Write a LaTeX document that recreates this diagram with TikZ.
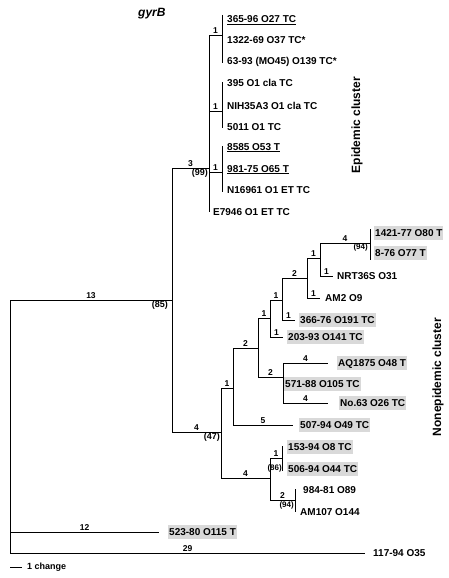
\documentclass[tikz,border=0pt]{standalone}
\usepackage{fontspec}
\setmainfont{Liberation Sans}
\begin{document}
\begin{tikzpicture}[x=1pt,y=-1pt,
  br/.style={line width=0.9pt, black},
  blen/.style={font=\fontsize{8.5}{9}\selectfont\bfseries, anchor=south, inner sep=1pt},
  boot/.style={font=\fontsize{8}{9}\selectfont\bfseries, inner sep=1pt},
  bootbig/.style={font=\fontsize{9}{10}\selectfont\bfseries, inner sep=1pt},
  leaf/.style={font=\fontsize{10}{12}\selectfont\bfseries, anchor=west, inner xsep=1pt, inner ysep=2pt, text height=8pt, text depth=2pt},
  gleaf/.style={leaf, fill=black!15},
  clus/.style={font=\fontsize{12}{14}\selectfont\bfseries, rotate=90}]
\useasboundingbox (0,0) rectangle (449,578);

% title
\node[font=\fontsize{12}{14}\selectfont\bfseries\itshape, anchor=west, inner sep=0pt] (title) at (138,14) {gyrB};

% internal nodes
\coordinate (R) at (10,300);
\coordinate (A) at (172,300);
\coordinate (E) at (209,168);
\coordinate (N) at (221,432);
\coordinate (T1) at (222,35);
\coordinate (T2) at (222,111);
\coordinate (T3) at (222,172);
\coordinate (T1t) at (222,15);  \coordinate (T1b) at (222,63);
\coordinate (T2t) at (222,82);  \coordinate (T2b) at (222,128);
\coordinate (T3t) at (222,146); \coordinate (T3b) at (222,192);
\coordinate (e7946) at (209,212);

\coordinate (N1) at (233,388);
\coordinate (N9) at (270,478);
\coordinate (N2) at (258,348);
\coordinate (l507) at (293,425);
\coordinate (N3) at (270,318);
\coordinate (N8) at (283,377);
\coordinate (N4) at (282,300);
\coordinate (l203) at (283,337);
\coordinate (N5) at (307,278);
\coordinate (l366) at (295,320);
\coordinate (N6) at (320,258);
\coordinate (lAM2) at (320,298);
\coordinate (N7) at (370,243);
\coordinate (lNRT) at (333,276);
\coordinate (N7t) at (370,229); \coordinate (N7b) at (370,260);
\coordinate (N8t) at (283,363); \coordinate (N8b) at (283,403);
\coordinate (lAQ) at (328,363);
\coordinate (lNo) at (328,403);
\coordinate (N10) at (282,458);
\coordinate (N10t) at (282,446); \coordinate (N10b) at (282,471);
\coordinate (N11) at (295,500);
\coordinate (N11t) at (295,489); \coordinate (N11b) at (295,512);
\coordinate (l523) at (159,532);
\coordinate (l117) at (365,553);

% branches
\draw[br] (R) -- node[blen]{13} (A);
\draw[br] (A) |- node[blen,pos=0.75]{3} (E);
\draw[br] (A) |- node[blen,pos=0.75]{4} (N);
\draw[br] (E) |- node[blen,pos=0.75]{1} (T1);
\draw[br] (E) |- node[blen,pos=0.75]{1} (T2);
\draw[br] (E) |- node[blen,pos=0.75]{1} (T3);
\draw[br] (E) -- (e7946);
\draw[br] (T1t) -- (T1b);
\draw[br] (T2t) -- (T2b);
\draw[br] (T3t) -- (T3b);

\draw[br] (N) |- node[blen,pos=0.75]{1} (N1);
\draw[br] (N) |- node[blen,pos=0.75]{4} (N9);
\draw[br] (N1) |- node[blen,pos=0.75]{2} (N2);
\draw[br] (N1) |- node[blen,pos=0.75]{5} (l507);
\draw[br] (N2) |- node[blen,pos=0.75]{1} (N3);
\draw[br] (N2) |- node[blen,pos=0.75]{2} (N8);
\draw[br] (N3) |- node[blen,pos=0.75]{1} (N4);
\draw[br] (N3) |- node[blen,pos=0.75]{1} (l203);
\draw[br] (N4) |- node[blen,pos=0.75]{2} (N5);
\draw[br] (N4) |- node[blen,pos=0.75]{1} (l366);
\draw[br] (N5) |- node[blen,pos=0.75]{1} (N6);
\draw[br] (N5) |- node[blen,pos=0.75]{1} (lAM2);
\draw[br] (N6) |- node[blen,pos=0.75]{4} (N7);
\draw[br] (N6) |- node[blen,pos=0.75]{1} (lNRT);
\draw[br] (N7t) -- (N7b);
\draw[br] (N8t) -- (N8b);
\draw[br] (N8) |- node[blen,pos=0.75]{4} (lAQ);
\draw[br] (N8) |- node[blen,pos=0.75]{4} (lNo);
\draw[br] (N9) |- node[blen,pos=0.75]{1} (N10);
\draw[br] (N9) |- node[blen,pos=0.75]{2} (N11);
\draw[br] (N10t) -- (N10b);
\draw[br] (N11t) -- (N11b);
\draw[br] (R) |- node[blen,pos=0.75]{12} (l523);
\draw[br] (R) |- node[blen,pos=0.75]{29} (l117);

% bootstrap values
\node[bootbig, anchor=north east] (b85) at ([xshift=-3pt]A) {(85)};
\node[bootbig, anchor=north east] (b99) at (E) {(99)};
\node[bootbig, anchor=north east] (b47) at (N) {(47)};
\node[boot, anchor=north east] (b94a) at ([xshift=-1pt]N7) {(94)};
\node[boot, anchor=east] (b86) at (283,468) {(86)};
\node[boot, anchor=north east] (b94b) at (N11) {(94)};

% epidemic leaves
\node[leaf] (t1) at (226,20) {\underline{365-96 O27 TC}};
\node[leaf] (t2) at (226,41) {1322-69 O37 TC*};
\node[leaf] (t3) at (226,62) {63-93 (MO45) O139 TC*};
\node[leaf] (t4) at (226,83) {395 O1 cla TC};
\node[leaf] (t5) at (226,106) {NIH35A3 O1 cla TC};
\node[leaf] (t6) at (226,127) {5011 O1 TC};
\node[leaf] (t7) at (226,147) {\underline{8585 O53 T}};
\node[leaf] (t8) at (226,169) {\underline{981-75 O65 T}};
\node[leaf] (t9) at (226,190) {N16961 O1 ET TC};
\node[leaf] (t10) at (212,212) {E7946 O1 ET TC};

% nonepidemic leaves
\node[gleaf] (u1) at (374,233) {1421-77 O80 T};
\node[gleaf] (u2) at (374,253) {8-76 O77 T};
\node[leaf] (u3) at ([xshift=3pt]lNRT) {NRT36S O31};
\node[leaf] (u4) at ([xshift=4pt]lAM2) {AM2 O9};
\node[gleaf] (u5) at ([xshift=4pt]l366) {366-76 O191 TC};
\node[gleaf] (u6) at ([xshift=4pt]l203) {203-93 O141 TC};
\node[gleaf] (u7) at ([xshift=9pt]lAQ) {AQ1875 O48 T};
\node[gleaf] (u8) at (284,384) {571-88 O105 TC};
\node[gleaf] (u9) at ([xshift=11pt]lNo) {No.63 O26 TC};
\node[gleaf] (u10) at ([xshift=6pt]l507) {507-94 O49 TC};
\node[gleaf] (u11) at (287,447) {153-94 O8 TC};
\node[gleaf] (u12) at (287,469) {506-94 O44 TC};
\node[leaf] (u13) at (302,490) {984-81 O89};
\node[leaf] (u14) at (299,512) {AM107 O144};
\node[gleaf] (u15) at ([xshift=9pt]l523) {523-80 O115 T};
\node[leaf] (u16) at ([xshift=7pt]l117) {117-94 O35};

% cluster labels
\node[clus] (ce) at (357,125) {Epidemic cluster};
\node[clus] (cn) at (438,377) {Nonepidemic cluster};

% scale bar
\coordinate (s1) at (10,567);
\coordinate (s2) at (22,567);
\draw[br] (s1) -- (s2);
\node[font=\fontsize{9}{10}\selectfont\bfseries, anchor=west, inner sep=0pt] (scl) at (27,567) {1 change};
\end{tikzpicture}
\end{document}
